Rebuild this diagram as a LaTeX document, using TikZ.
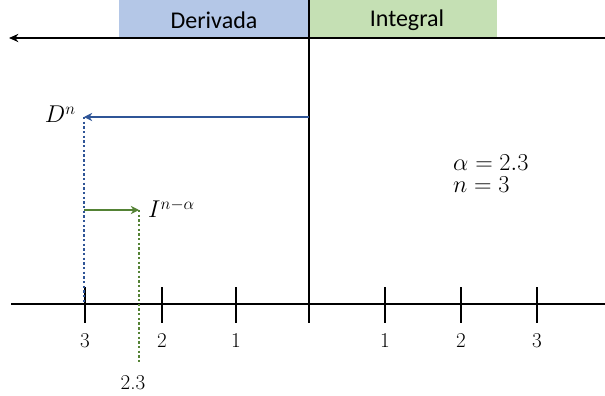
\documentclass[tikz,border=0pt]{standalone}
\usepackage{fontspec}
\newfontfamily\headfont{Carlito}
\usepackage{amsmath}
\usetikzlibrary{arrows.meta}
\definecolor{derivfill}{HTML}{B4C7E7}
\definecolor{integfill}{HTML}{C5E0B4}
\definecolor{derivline}{HTML}{2F5597}
\definecolor{integline}{HTML}{548235}
\tikzset{
  axis/.style={black, line width=2.2pt},
  tick/.style={black, line width=2.1pt},
  ticklabel/.style={font=\fontsize{18}{21}\selectfont},
  boxlabel/.style={font=\headfont\fontsize{20.5}{24}\selectfont},
  mathlabel/.style={font=\fontsize{20.5}{24}\selectfont}
}
\begin{document}
\begin{tikzpicture}[x=0.03cm,y=-0.03cm]
\useasboundingbox (0,0) rectangle (605,396);
% headings
\fill[derivfill] (119,0) rectangle (309,38);
\fill[integfill] (309,0) rectangle (497,38);
\node[boxlabel] (der) at (214,20) {Derivada};
\node[boxlabel] (int) at (407,20) {Integral};
% axes
\coordinate (topright) at (605,38);
\coordinate (topleft) at (9,38);
\coordinate (botleft) at (11,304);
\coordinate (botright) at (605,304);
\coordinate (origtop) at (309,0);
\coordinate (origbot) at (309,323);
\draw[axis,-{Stealth[length=8pt,width=7pt]}] (topright) -- (topleft);
\draw[axis] (botleft) -- (botright);
\draw[axis] (origtop) -- (origbot);
% ticks
\foreach \x/\lab [count=\i] in {85/3,162/2,236/1,385/1,461/2,537/3}{
  \coordinate (t\i a) at (\x,287);
  \coordinate (t\i b) at (\x,323);
  \draw[tick] (t\i a) -- (t\i b);
  \node[ticklabel] (l\i) at (\x,341) {\lab};
}
% derivative
\coordinate (dstart) at (309,117);
\coordinate (dend) at (84,117);
\coordinate (dfoot) at (84,304);
\draw[derivline, line width=2pt, -{Stealth[length=7pt,width=7pt]}] (dstart) -- (dend);
\draw[derivline, line width=2pt, dotted] (dend) -- (dfoot);
\node[mathlabel, anchor=base east, inner sep=0pt] (dn) at (76,123) {$D^n$};
% integral
\coordinate (istart) at (84,210);
\coordinate (iend) at (139,210);
\coordinate (ifoot) at (139,362);
\draw[integline, line width=2pt, -{Stealth[length=7pt,width=7pt]}] (istart) -- (iend);
\draw[integline, line width=2pt, dotted] (iend) -- (ifoot);
\node[mathlabel, anchor=base west, inner sep=0pt] (inal) at (148,218) {$I^{n-\alpha}$};
\node[ticklabel] (frac) at (133,383) {2.3};
% values
\node[mathlabel, anchor=base west, inner sep=0pt] (alpha) at (453,170) {$\alpha = 2.3$};
\node[mathlabel, anchor=base west, inner sep=0pt] (nval) at (453,192) {$n = 3$};
\end{tikzpicture}
\end{document}
